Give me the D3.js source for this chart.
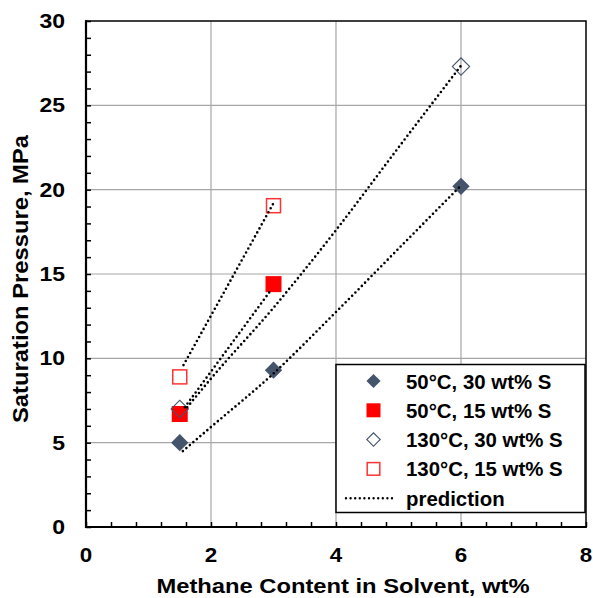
<!DOCTYPE html>
<html>
<head>
<meta charset="utf-8">
<script src="https://cdn.jsdelivr.net/npm/d3@7"></script>
<style>
  body { margin: 0; background: #fff; }
  svg text { font-family: "Liberation Sans", Arial, sans-serif; font-weight: bold; fill: #000; }
</style>
</head>
<body>
<script>
// measured points
let x50_30 = [1.5, 3, 6],   y50_30 = [5.0, 9.3, 20.2];
let x50_15 = [1.5, 3],      y50_15 = [6.7, 14.4];
let x130_30 = [1.5, 6],     y130_30 = [7.0, 27.3];
let x130_15 = [1.5, 3],     y130_15 = [8.9, 19.05];

// prediction curves (dotted)
let pred50_30x = [1.55, 2, 3, 4, 5, 6],      pred50_30y = [4.5, 5.93, 9.1, 12.75, 16.5, 20.25];
let pred50_15x = [1.58, 2.95],               pred50_15y = [7.1, 14.0];
let pred130_30x = [1.62, 2, 3, 4, 5, 6],     pred130_30y = [7.1, 8.8, 13.0, 17.6, 22.5, 27.35];
let pred130_15x = [1.56, 3.0],               pred130_15y = [9.6, 19.2];

let xTicks = [0, 2, 4, 6, 8];
let yTicks = [0, 5, 10, 15, 20, 25, 30];

let legendLabels = ["50°C, 30 wt% S", "50°C, 15 wt% S", "130°C, 30 wt% S", "130°C, 15 wt% S", "prediction"];

let W = 593, H = 598;
let pLeft = 86, pRight = 586, pTop = 21, pBottom = 527;

let svg = d3.select("body").append("svg")
    .attr("width", W)
    .attr("height", H);

let x = d3.scaleLinear().domain([0, 8]).range([pLeft, pRight]);
let y = d3.scaleLinear().domain([0, 30]).range([pBottom, pTop]);

// widen text a bit, the original font runs wider than Arial
function stretch(sel, k) {
    sel.each(function() {
        let w = this.getComputedTextLength();
        d3.select(this).attr("textLength", w * k).attr("lengthAdjust", "spacingAndGlyphs");
    });
}

// grid
svg.append("g").selectAll("line")
    .data(xTicks.filter(d => d > 0 && d < 8))
    .enter().append("line")
    .attr("x1", d => x(d)).attr("x2", d => x(d))
    .attr("y1", pTop).attr("y2", pBottom)
    .attr("stroke", "#a6a6a6").attr("stroke-width", 1.2);
svg.append("g").selectAll("line")
    .data(yTicks.filter(d => d > 0 && d < 30))
    .enter().append("line")
    .attr("x1", pLeft).attr("x2", pRight)
    .attr("y1", d => y(d)).attr("y2", d => y(d))
    .attr("stroke", "#a6a6a6").attr("stroke-width", 1.2);

// minor ticks (inside)
svg.append("g").call(d3.axisTop(x).tickValues(d3.range(0, 8.01, 0.4)).tickSize(5).tickFormat(""))
    .attr("transform", "translate(0," + pBottom + ")")
    .call(g => g.select(".domain").remove())
    .selectAll("line").attr("stroke", "#000").attr("stroke-width", 1.5);
svg.append("g").call(d3.axisRight(y).tickValues(d3.range(0, 30.01, 1)).tickSize(5).tickFormat(""))
    .attr("transform", "translate(" + pLeft + ",0)")
    .call(g => g.select(".domain").remove())
    .selectAll("line").attr("stroke", "#000").attr("stroke-width", 1.5);

// frame
svg.append("rect")
    .attr("x", pLeft).attr("y", pTop)
    .attr("width", pRight - pLeft).attr("height", pBottom - pTop)
    .attr("fill", "none").attr("stroke", "#000").attr("stroke-width", 1.5);
svg.append("line").attr("x1", pLeft).attr("x2", pLeft).attr("y1", pTop - 0.75).attr("y2", pBottom + 1)
    .attr("stroke", "#000").attr("stroke-width", 2.2);
svg.append("line").attr("x1", pLeft - 1).attr("x2", pRight + 0.75).attr("y1", pBottom).attr("y2", pBottom)
    .attr("stroke", "#000").attr("stroke-width", 2.2);

// tick labels
svg.append("g").selectAll("text")
    .data(xTicks).enter().append("text")
    .attr("x", d => x(d)).attr("y", 562)
    .attr("text-anchor", "middle")
    .style("font-size", "20px")
    .text(d => d)
    .call(stretch, 1.12);
svg.append("g").selectAll("text")
    .data(yTicks).enter().append("text")
    .attr("x", 65).attr("y", d => y(d) + 7)
    .attr("text-anchor", "end")
    .style("font-size", "20px")
    .text(d => d)
    .call(stretch, 1.15);

// axis titles
svg.append("text")
    .attr("x", 343).attr("y", 593)
    .attr("text-anchor", "middle")
    .style("font-size", "21px")
    .attr("textLength", 373).attr("lengthAdjust", "spacingAndGlyphs")
    .text("Methane Content in Solvent, wt%");
svg.append("text")
    .attr("transform", "translate(28,279) rotate(-90)")
    .attr("text-anchor", "middle")
    .style("font-size", "22px")
    .attr("textLength", 288).attr("lengthAdjust", "spacingAndGlyphs")
    .text("Saturation Pressure, MPa");

let darkBlue = "#44546a";
let diamond = s => d3.symbol().type(d3.symbolSquare).size(s);

function markers(xs, ys, draw) {
    let g = svg.append("g");
    xs.forEach((xv, i) => draw(g, x(xv), y(ys[i])));
}

markers(x50_30, y50_30, (g, cx, cy) => g.append("path")
    .attr("d", diamond(150)()).attr("fill", darkBlue)
    .attr("transform", "translate(" + cx + "," + cy + ") rotate(45)"));
markers(x50_15, y50_15, (g, cx, cy) => g.append("rect")
    .attr("x", cx - 8).attr("y", cy - 8).attr("width", 16).attr("height", 16)
    .attr("fill", "#ff0000"));
markers(x130_30, y130_30, (g, cx, cy) => g.append("path")
    .attr("d", diamond(150)()).attr("fill", "none")
    .attr("stroke", darkBlue).attr("stroke-width", 1.1)
    .attr("transform", "translate(" + cx + "," + cy + ") rotate(45)"));
markers(x130_15, y130_15, (g, cx, cy) => g.append("rect")
    .attr("x", cx - 7).attr("y", cy - 7).attr("width", 14).attr("height", 14)
    .attr("fill", "#fff").attr("stroke", "#ff3333").attr("stroke-width", 1.5));

// prediction lines
let line = d3.line().x(d => x(d[0])).y(d => y(d[1])).curve(d3.curveMonotoneX);
[[pred50_30x, pred50_30y], [pred50_15x, pred50_15y], [pred130_30x, pred130_30y], [pred130_15x, pred130_15y]]
    .forEach(p => {
        svg.append("path")
            .datum(p[0].map((v, i) => [v, p[1][i]]))
            .attr("d", line)
            .attr("fill", "none")
            .attr("stroke", "#000")
            .attr("stroke-width", 2.6)
            .attr("stroke-linecap", "round")
            .attr("stroke-dasharray", "0 4.6");
    });

// legend
let lg = svg.append("g");
lg.append("rect")
    .attr("x", 336).attr("y", 364.5).attr("width", 249).attr("height", 148)
    .attr("fill", "#fff").attr("stroke", "#000").attr("stroke-width", 1.5);
let rowY = i => 381 + i * 29.3;
let mx = 373.5;
lg.selectAll("text").data(legendLabels).enter().append("text")
    .attr("x", 406).attr("y", (d, i) => rowY(i) + 7.5)
    .style("font-size", "20px")
    .text(d => d)
    .call(stretch, 1.02);
lg.append("path").attr("d", diamond(100)()).attr("fill", darkBlue)
    .attr("transform", "translate(" + mx + "," + rowY(0) + ") rotate(45)");
lg.append("rect").attr("x", mx - 7).attr("y", rowY(1) - 7).attr("width", 14).attr("height", 14)
    .attr("fill", "#ff0000");
lg.append("path").attr("d", diamond(90)()).attr("fill", "none")
    .attr("stroke", darkBlue).attr("stroke-width", 1.1)
    .attr("transform", "translate(" + mx + "," + rowY(2) + ") rotate(45)");
lg.append("rect").attr("x", mx - 6.3).attr("y", rowY(3) - 6.3).attr("width", 12.6).attr("height", 12.6)
    .attr("fill", "#fff").attr("stroke", "#ff3333").attr("stroke-width", 1.5);
lg.append("line").attr("x1", 346).attr("x2", 392).attr("y1", rowY(4)).attr("y2", rowY(4))
    .attr("stroke", "#000").attr("stroke-width", 2.4)
    .attr("stroke-linecap", "round").attr("stroke-dasharray", "0 4.6");
</script>
</body>
</html>
